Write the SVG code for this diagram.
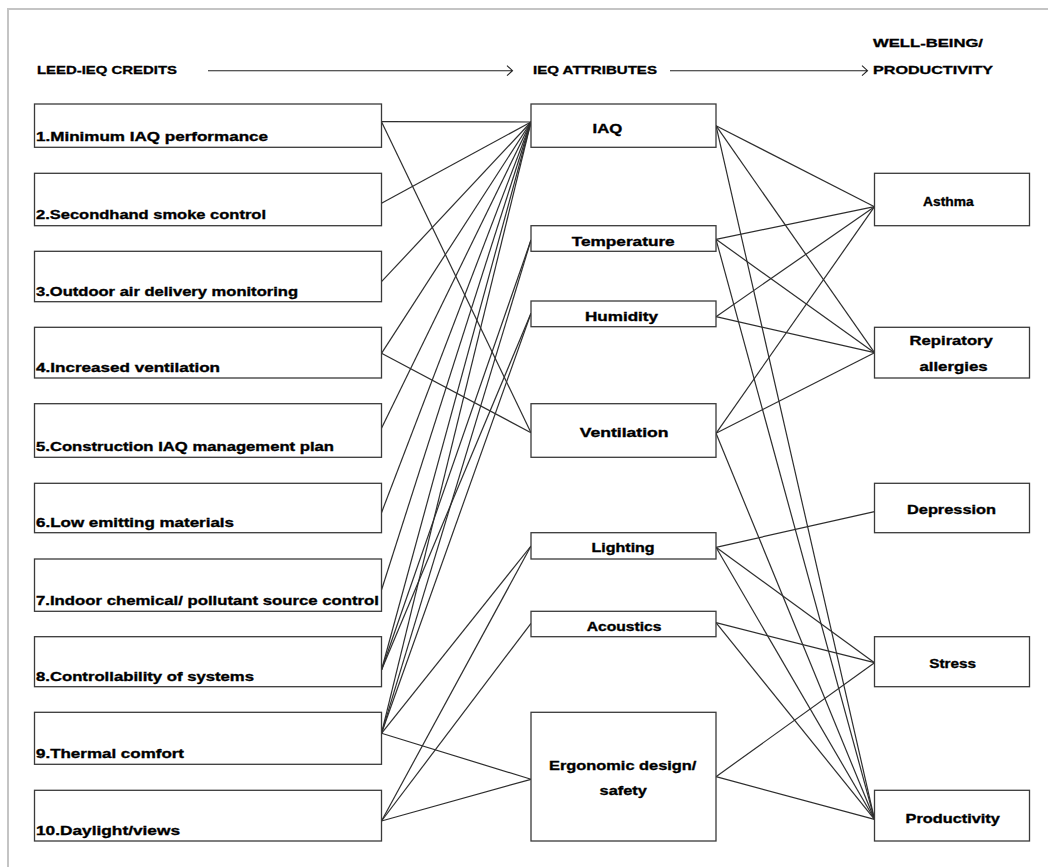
<svg xmlns="http://www.w3.org/2000/svg" width="1048" height="867" viewBox="0 0 1048 867">
<style>
.frame{stroke:#c4c4c4;stroke-width:2;fill:none}
.box{fill:#fff;stroke:#3a3a3a;stroke-width:1.3}
.c{stroke:#2e2e2e;stroke-width:1.2;fill:none}
.t{font-family:"Liberation Sans",Arial,sans-serif;font-weight:bold;font-size:13px;fill:#000;stroke:#000;stroke-width:0.35}
.h{font-family:"Liberation Sans",Arial,sans-serif;font-weight:bold;font-size:11.5px;fill:#000;stroke:#000;stroke-width:0.3}
.arr{stroke:#222;stroke-width:1.1;fill:none}
</style>
<rect width="1048" height="867" fill="#fff"/>
<path class="frame" d="M8,880 L8,9 L1060,9"/>

<g id="headers">
<text class="h" x="37" y="74" textLength="140" lengthAdjust="spacingAndGlyphs">LEED-IEQ CREDITS</text>
<text class="h" x="533" y="74" textLength="124" lengthAdjust="spacingAndGlyphs">IEQ ATTRIBUTES</text>
<text class="h" x="873" y="47" textLength="110" lengthAdjust="spacingAndGlyphs">WELL-BEING/</text>
<text class="h" x="873" y="74" textLength="120" lengthAdjust="spacingAndGlyphs">PRODUCTIVITY</text>
<path class="arr" d="M208,70.7 H512 M507,65.7 L512.5,70.7 L507,75.7"/>
<path class="arr" d="M670,70.7 H867 M862,65.7 L867.5,70.7 L862,75.7"/>
</g>

<g id="connectors">
<line class="c" x1="381.5" y1="121.7" x2="531" y2="122"/>
<line class="c" x1="381.5" y1="121.7" x2="531" y2="432.7"/>
<line class="c" x1="381.5" y1="203.3" x2="531" y2="122"/>
<line class="c" x1="381.5" y1="281.7" x2="531" y2="122"/>
<line class="c" x1="381.5" y1="353.3" x2="531" y2="122"/>
<line class="c" x1="381.5" y1="353.3" x2="531" y2="432.7"/>
<line class="c" x1="381.5" y1="428.3" x2="531" y2="122"/>
<line class="c" x1="381.5" y1="512.7" x2="531" y2="122"/>
<line class="c" x1="381.5" y1="590" x2="531" y2="122"/>
<line class="c" x1="381.5" y1="670" x2="531" y2="122"/>
<line class="c" x1="381.5" y1="670" x2="531" y2="240"/>
<line class="c" x1="381.5" y1="670" x2="531" y2="313.3"/>
<line class="c" x1="381.5" y1="733.3" x2="531" y2="122"/>
<line class="c" x1="381.5" y1="733.3" x2="531" y2="240"/>
<line class="c" x1="381.5" y1="733.3" x2="531" y2="313.3"/>
<line class="c" x1="381.5" y1="733.3" x2="531" y2="546"/>
<line class="c" x1="381.5" y1="733.3" x2="531" y2="779.3"/>
<line class="c" x1="381.5" y1="821" x2="531" y2="546"/>
<line class="c" x1="381.5" y1="821" x2="531" y2="623.3"/>
<line class="c" x1="381.5" y1="821" x2="531" y2="779.3"/>
<line class="c" x1="716" y1="125.7" x2="874.5" y2="206.7"/>
<line class="c" x1="716" y1="125.7" x2="874.5" y2="352.7"/>
<line class="c" x1="716" y1="125.7" x2="874.5" y2="819.3"/>
<line class="c" x1="716" y1="239.3" x2="874.5" y2="206.7"/>
<line class="c" x1="716" y1="239.3" x2="874.5" y2="352.7"/>
<line class="c" x1="716" y1="239.3" x2="874.5" y2="819.3"/>
<line class="c" x1="716" y1="316.7" x2="874.5" y2="206.7"/>
<line class="c" x1="716" y1="316.7" x2="874.5" y2="352.7"/>
<line class="c" x1="716" y1="433.3" x2="874.5" y2="206.7"/>
<line class="c" x1="716" y1="433.3" x2="874.5" y2="352.7"/>
<line class="c" x1="716" y1="433.3" x2="874.5" y2="819.3"/>
<line class="c" x1="716" y1="547.3" x2="874.5" y2="511.7"/>
<line class="c" x1="716" y1="547.3" x2="874.5" y2="662.7"/>
<line class="c" x1="716" y1="547.3" x2="874.5" y2="819.3"/>
<line class="c" x1="716" y1="622.7" x2="874.5" y2="662.7"/>
<line class="c" x1="716" y1="622.7" x2="874.5" y2="819.3"/>
<line class="c" x1="716" y1="776.7" x2="874.5" y2="662.7"/>
<line class="c" x1="716" y1="776.7" x2="874.5" y2="819.3"/>
</g>

<g id="credit-1"><rect class="box" x="34.5" y="104" width="347" height="43.3"/><text class="t" x="36" y="140.7" textLength="232" lengthAdjust="spacingAndGlyphs">1.Minimum IAQ performance</text></g>
<g id="credit-2"><rect class="box" x="34.5" y="173.3" width="347" height="52.4"/><text class="t" x="36" y="219.3" textLength="230" lengthAdjust="spacingAndGlyphs">2.Secondhand smoke control</text></g>
<g id="credit-3"><rect class="box" x="34.5" y="251.3" width="347" height="50.4"/><text class="t" x="36" y="296" textLength="262" lengthAdjust="spacingAndGlyphs">3.Outdoor air delivery monitoring</text></g>
<g id="credit-4"><rect class="box" x="34.5" y="327.3" width="347" height="50.7"/><text class="t" x="36" y="371.7" textLength="184" lengthAdjust="spacingAndGlyphs">4.Increased ventilation</text></g>
<g id="credit-5"><rect class="box" x="34.5" y="403.7" width="347" height="53.6"/><text class="t" x="36" y="451" textLength="298" lengthAdjust="spacingAndGlyphs">5.Construction IAQ management plan</text></g>
<g id="credit-6"><rect class="box" x="34.5" y="483.3" width="347" height="49.4"/><text class="t" x="36" y="526.7" textLength="198" lengthAdjust="spacingAndGlyphs">6.Low emitting materials</text></g>
<g id="credit-7"><rect class="box" x="34.5" y="559" width="347" height="52.3"/><text class="t" x="36" y="605" textLength="343" lengthAdjust="spacingAndGlyphs">7.Indoor chemical/ pollutant source control</text></g>
<g id="credit-8"><rect class="box" x="34.5" y="636.7" width="347" height="50"/><text class="t" x="36" y="680.7" textLength="218" lengthAdjust="spacingAndGlyphs">8.Controllability of systems</text></g>
<g id="credit-9"><rect class="box" x="34.5" y="712.3" width="347" height="52"/><text class="t" x="36" y="758.3" textLength="148" lengthAdjust="spacingAndGlyphs">9.Thermal comfort</text></g>
<g id="credit-10"><rect class="box" x="34.5" y="790.3" width="347" height="50.7"/><text class="t" x="36" y="835" textLength="144" lengthAdjust="spacingAndGlyphs">10.Daylight/views</text></g>

<g id="attr-iaq"><rect class="box" x="531" y="104" width="185" height="43.3"/><text class="t" x="592.6" y="132.7" textLength="29.7" lengthAdjust="spacingAndGlyphs">IAQ</text></g>
<g id="attr-temperature"><rect class="box" x="531" y="225.7" width="185" height="25.6"/><text class="t" x="571.7" y="245.5" textLength="103" lengthAdjust="spacingAndGlyphs">Temperature</text></g>
<g id="attr-humidity"><rect class="box" x="531" y="301" width="185" height="25.7"/><text class="t" x="585" y="320.5" textLength="73" lengthAdjust="spacingAndGlyphs">Humidity</text></g>
<g id="attr-ventilation"><rect class="box" x="531" y="403.7" width="185" height="53.6"/><text class="t" x="579.7" y="436.7" textLength="88.8" lengthAdjust="spacingAndGlyphs">Ventilation</text></g>
<g id="attr-lighting"><rect class="box" x="531" y="532.7" width="185" height="26.3"/><text class="t" x="591.6" y="551.7" textLength="63" lengthAdjust="spacingAndGlyphs">Lighting</text></g>
<g id="attr-acoustics"><rect class="box" x="531" y="611.3" width="185" height="25.4"/><text class="t" x="586.7" y="630.5" textLength="74.8" lengthAdjust="spacingAndGlyphs">Acoustics</text></g>
<g id="attr-ergonomic"><rect class="box" x="531" y="712.3" width="185" height="128.7"/><text class="t" x="549" y="770" textLength="147.4" lengthAdjust="spacingAndGlyphs">Ergonomic design/</text><text class="t" x="599.6" y="794.5" textLength="47.2" lengthAdjust="spacingAndGlyphs">safety</text></g>

<g id="out-asthma"><rect class="box" x="874.5" y="173.3" width="155" height="52.4"/><text class="t" x="923" y="205.5" textLength="50.6" lengthAdjust="spacingAndGlyphs">Asthma</text></g>
<g id="out-respiratory"><rect class="box" x="874.5" y="327.3" width="155" height="50.7"/><text class="t" x="909.6" y="345" textLength="83.2" lengthAdjust="spacingAndGlyphs">Repiratory</text><text class="t" x="919.4" y="370.7" textLength="68.2" lengthAdjust="spacingAndGlyphs">allergies</text></g>
<g id="out-depression"><rect class="box" x="874.5" y="483.3" width="155" height="49.4"/><text class="t" x="907" y="514" textLength="89" lengthAdjust="spacingAndGlyphs">Depression</text></g>
<g id="out-stress"><rect class="box" x="874.5" y="636.7" width="155" height="50"/><text class="t" x="929.2" y="667.5" textLength="46.8" lengthAdjust="spacingAndGlyphs">Stress</text></g>
<g id="out-productivity"><rect class="box" x="874.5" y="790.3" width="155" height="50.7"/><text class="t" x="905.5" y="822.7" textLength="94.3" lengthAdjust="spacingAndGlyphs">Productivity</text></g>
</svg>
